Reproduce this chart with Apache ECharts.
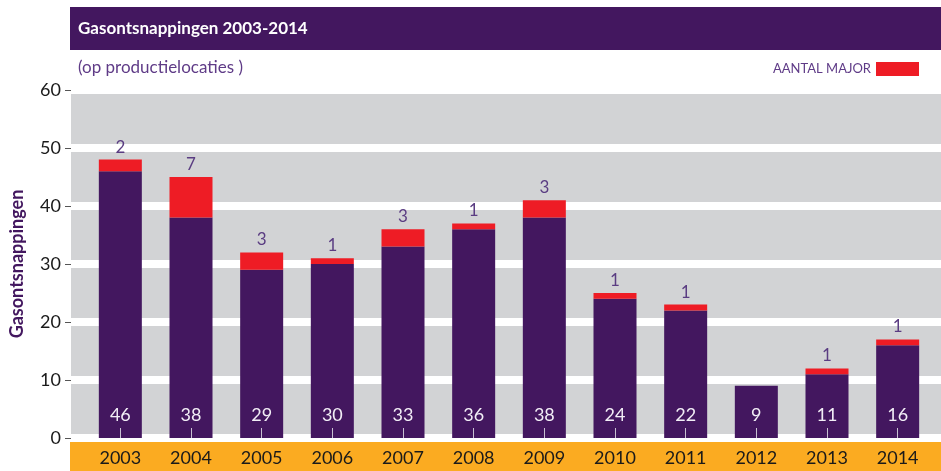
<!DOCTYPE html>
<html>
<head>
<meta charset="utf-8">
<script src="https://cdn.jsdelivr.net/npm/echarts@6/dist/echarts.min.js"></script>
<style>
  html, body { margin: 0; padding: 0; background: #fff; }
  #chart { width: 941px; height: 471px; }
</style>
</head>
<body>
<div id="chart"></div>
<script>
// data
const years = ["2003", "2004", "2005", "2006", "2007", "2008", "2009", "2010", "2011", "2012", "2013", "2014"];
const overig = [46, 38, 29, 30, 33, 36, 38, 24, 22, 9, 11, 16];
const major = [2, 7, 3, 1, 3, 1, 3, 1, 1, 0, 1, 1];
const yTicks = { min: 0, max: 60, interval: 10 };

const PURPLE = "#43175f";
const RED = "#ee1c25";
const GREY = "#d2d3d5";
const ORANGE = "#fbab21";
const FONT = "Lato, 'Open Sans', sans-serif";

const chart = echarts.init(document.getElementById("chart"));

const option = {
  animation: false,
  textStyle: { fontFamily: FONT },
  title: {
    text: "Gasontsnappingen 2003-2014",
    left: 73,
    top: 15,
    textStyle: { color: "#fff", fontSize: 17, fontWeight: "bold", fontFamily: FONT },
    subtext: "(op productielocaties )",
    itemGap: 22,
    subtextStyle: { color: "#5f3b87", fontSize: 17, fontFamily: FONT },
  },
  graphic: [
    { type: "rect", z: -10, shape: { x: 70, y: 7, width: 871, height: 43 }, style: { fill: PURPLE } },
    { type: "rect", z: -10, shape: { x: 70, y: 442, width: 871, height: 29 }, style: { fill: ORANGE } },
  ],
  legend: {
    data: [{ name: "AANTAL MAJOR", icon: "rect" }],
    right: 17,
    top: 57,
    align: "right",
    itemWidth: 43,
    itemHeight: 14,
    itemGap: 8,
    textStyle: { color: "#5f3b87", fontSize: 13, fontFamily: FONT },
  },
  grid: [
    { left: 70, right: 0, top: 90, bottom: 33 },
    { left: 85, right: 8, top: 90, bottom: 33 },
  ],
  xAxis: [
    { type: "category", gridIndex: 0, data: years, show: false },
    {
      type: "category",
      gridIndex: 1,
      data: years,
      z: 10,
      axisLine: { show: false },
      axisTick: {
        show: true,
        inside: true,
        alignWithLabel: true,
        length: 10,
        lineStyle: { color: "#c9c2d2", width: 1 },
      },
      axisLabel: { color: "#1a1a1a", fontSize: 18, margin: 11, fontFamily: FONT },
    },
  ],
  yAxis: [
    {
      type: "value",
      gridIndex: 0,
      min: yTicks.min,
      max: yTicks.max,
      interval: yTicks.interval,
      name: "Gasontsnappingen",
      nameLocation: "middle",
      nameGap: 45,
      nameTextStyle: { color: PURPLE, fontSize: 18, fontWeight: "bold", fontFamily: FONT },
      axisLine: { show: true, lineStyle: { color: "rgba(0,0,0,0)" } },
      axisTick: { show: true, length: 6, lineStyle: { color: "#555" } },
      axisLabel: { color: "#1a1a1a", fontSize: 18, margin: 10, fontFamily: FONT },
      splitArea: { show: true, areaStyle: { color: [GREY] } },
      splitLine: { show: true, lineStyle: { color: "#fff", width: 8 } },
    },
    { type: "value", gridIndex: 1, min: yTicks.min, max: yTicks.max, interval: yTicks.interval, show: false },
  ],
  series: [
    {
      name: "Overig",
      type: "bar",
      stack: "totaal",
      xAxisIndex: 1,
      yAxisIndex: 1,
      barWidth: 43,
      data: overig,
      itemStyle: { color: PURPLE },
      label: {
        show: true,
        position: "insideBottom",
        distance: 14,
        color: "#f2eef6",
        fontSize: 18,
        fontFamily: FONT,
      },
    },
    {
      name: "AANTAL MAJOR",
      type: "bar",
      stack: "totaal",
      xAxisIndex: 1,
      yAxisIndex: 1,
      barWidth: 43,
      data: major,
      itemStyle: { color: RED },
      label: {
        show: true,
        position: "top",
        distance: 4,
        color: "#5a3c82",
        fontSize: 17,
        fontFamily: FONT,
        formatter: (p) => (p.value ? p.value : ""),
      },
    },
  ],
};

chart.setOption(option);
</script>
</body>
</html>
